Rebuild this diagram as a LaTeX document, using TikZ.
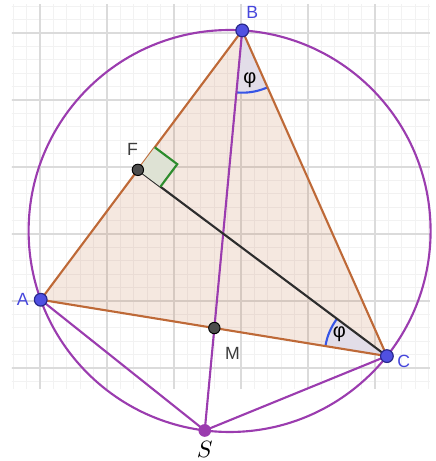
\documentclass[tikz,border=0pt]{standalone}
\usepackage{fontspec}
\setmainfont{Liberation Sans}
\usetikzlibrary{calc, angles}
\definecolor{circpurple}{RGB}{155,60,175}
\definecolor{edgebrown}{RGB}{190,105,55}
\definecolor{triafill}{RGB}{190,100,50}
\definecolor{ptblue}{RGB}{80,80,225}
\definecolor{ptdark}{RGB}{40,40,140}
\definecolor{angblue}{RGB}{55,85,230}
\definecolor{angfill}{RGB}{226,221,232}
\definecolor{rightgreen}{RGB}{45,140,45}
\definecolor{rightfill}{RGB}{222,226,212}
\definecolor{segdark}{RGB}{45,45,45}
\definecolor{lblblue}{RGB}{70,70,220}
\definecolor{lblgray}{RGB}{60,60,60}

\begin{document}
\begin{tikzpicture}[
    minorgrid/.style={draw=gray!10, line width=0.35pt},
    majorgrid/.style={draw=gray!28, line width=0.45pt},
    purp/.style={draw=circpurple, line width=0.9pt},
    edge/.style={draw=edgebrown, line width=0.9pt},
    vtx/.style={circle, draw=ptdark, fill=ptblue, line width=0.5pt,
                inner sep=0pt, minimum size=1.9mm},
    inner/.style={circle, draw=black, fill=segdark!85, line width=0.4pt,
                  inner sep=0pt, minimum size=1.7mm},
    sdot/.style={circle, fill=circpurple, inner sep=0pt, minimum size=1.9mm},
    lblb/.style={text=lblblue, font=\fontsize{7.5}{9}\selectfont, inner sep=0pt},
    lblg/.style={text=lblgray, font=\fontsize{7.5}{9}\selectfont, inner sep=0pt},
    phi/.style={text=black, font=\fontsize{8.5}{10}\selectfont, inner sep=0pt}
  ]
  \useasboundingbox (-0.597,-2.388) rectangle (5.896,4.493);

  % background grid
  \begin{scope}
    \clip (-0.42,-1.30) rectangle (5.82,4.42);
    \draw[minorgrid, step=0.2] (-0.6,-1.4) grid (6,4.6);
    \draw[majorgrid, step=1] (-0.6,-1.4) grid (6,4.6);
  \end{scope}

  % points on the circle
  \coordinate (O) at (2.83,1.045);
  \coordinate (A) at ($(O)+(200:3)$);
  \coordinate (B) at ($(O)+(86.4:3)$);
  \coordinate (C) at ($(O)+(-38.5:3)$);
  \coordinate (S) at ($(O)+(262.9:3)$);
  \coordinate (F) at ($(A)!(C)!(B)$);
  \coordinate (M) at (intersection of B--S and A--C);

  \fill[triafill, fill opacity=0.15] (A) -- (B) -- (C) -- cycle;
  \pic[draw=angblue, fill=angfill, line width=0.9pt, angle radius=0.93cm] {angle=S--B--C};
  \pic[draw=angblue, fill=angfill, line width=0.9pt, angle radius=0.93cm] {angle=F--C--A};

  \draw[purp] (O) circle (3);
  \draw[purp] (A) -- (S) -- (C);
  \draw[purp] (B) -- (S);
  \draw[draw=segdark, line width=0.9pt] (C) -- (F);
  \draw[edge] (A) -- (B) -- (C) -- cycle;
  \pic[draw=rightgreen, fill=rightfill, line width=0.9pt, angle radius=0.42cm] {right angle=B--F--C};

  % dots
  \node[vtx] (Adot) at (A) {};
  \node[vtx] (Bdot) at (B) {};
  \node[vtx] (Cdot) at (C) {};
  \node[inner] (Fdot) at (F) {};
  \node[inner] (Mdot) at (M) {};
  \node[sdot] (Sdot) at (S) {};

  % labels
  \node[lblb] (Albl) at ($(A)+(-0.27,0)$) {A};
  \node[lblb] (Blbl) at ($(B)+(0.15,0.27)$) {B};
  \node[lblb] (Clbl) at ($(C)+(0.25,-0.08)$) {C};
  \node[lblg] (Flbl) at ($(F)+(-0.08,0.3)$) {F};
  \node[lblg] (Mlbl) at ($(M)+(0.27,-0.38)$) {M};
  \node[inner sep=0pt, font=\fontsize{10}{12}\selectfont] (Slbl) at ($(S)+(0,-0.29)$) {$S$};
  \node[phi] (phiB) at (3.134,3.299) {φ};
  \node[phi] (phiC) at (4.467,-0.497) {φ};
\end{tikzpicture}
\end{document}
